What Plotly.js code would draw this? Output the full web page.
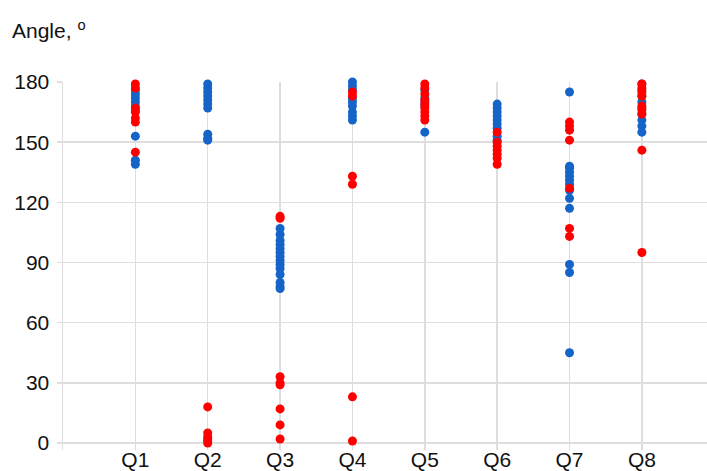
<!DOCTYPE html>
<html>
<head>
<meta charset="utf-8">
<script src="https://cdn.plot.ly/plotly-3.0.1.min.js"></script>
<style>html,body{margin:0;padding:0;background:#fff;}#chart{width:707px;height:471px;}</style>
</head>
<body>
<div id="chart"></div>
<script>
const categories = ['Q1', 'Q2', 'Q3', 'Q4', 'Q5', 'Q6', 'Q7', 'Q8'];

const blueQ1 = [176, 174, 172, 170, 168, 166, 153, 141, 139];
const blueQ2 = [179, 177, 175, 173, 171, 169, 167, 154, 152, 151];
const blueQ3 = [107, 104, 101, 99, 97, 95, 93, 91, 89, 87, 84, 80, 78, 77];
const blueQ4 = [180, 178, 176, 172, 170, 168, 165, 163, 161];
const blueQ5 = [176, 172, 170, 168, 155];
const blueQ6 = [169, 167, 165, 163, 161, 159, 157, 153, 151];
const blueQ7 = [175, 138, 137, 135, 133, 131, 129, 126, 122, 117, 89, 85, 45];
const blueQ8 = [179, 176, 173, 170, 167, 164, 161, 158, 155];

const redQ1 = [179, 177, 167, 165, 162, 160, 145];
const redQ2 = [18, 5, 3, 2, 1, 0];
const redQ3 = [113, 112, 33, 30, 29, 17, 9, 2];
const redQ4 = [175, 173, 133, 129, 23, 1];
const redQ5 = [179, 177, 174, 171, 169, 167, 165, 163, 161];
const redQ6 = [155, 150, 148, 146, 144, 142, 139];
const redQ7 = [160, 158, 156, 151, 127, 107, 103];
const redQ8 = [179, 177, 175, 173, 168, 166, 164, 146, 95];

const blueSets = [blueQ1, blueQ2, blueQ3, blueQ4, blueQ5, blueQ6, blueQ7, blueQ8];
const redSets = [redQ1, redQ2, redQ3, redQ4, redQ5, redQ6, redQ7, redQ8];
const yTicks = [0, 30, 60, 90, 120, 150, 180];

function flatten(sets) {
  const xs = [], ys = [];
  sets.forEach((vals, i) => vals.forEach(v => { xs.push(i + 1); ys.push(v); }));
  return {xs, ys};
}
const b = flatten(blueSets), r = flatten(redSets);

const grid = '#dedede';
const fam = 'Liberation Sans, Arial, sans-serif';
const traces = [
  {type: 'scatter', mode: 'markers', x: b.xs, y: b.ys, cliponaxis: false,
   marker: {color: '#1565c8', size: 9}, hoverinfo: 'y'},
  {type: 'scatter', mode: 'markers', x: r.xs, y: r.ys, cliponaxis: false,
   marker: {color: '#ff0000', size: 9}, hoverinfo: 'y'}
];

const layout = {
  width: 707, height: 471,
  margin: {l: 63, r: 0, t: 82, b: 21},
  paper_bgcolor: '#fff', plot_bgcolor: '#fff',
  showlegend: false,
  font: {family: fam, size: 21, color: '#111'},
  title: {text: 'Angle, <sup>o</sup>', x: 12 / 707, xanchor: 'left', xref: 'container',
          y: 1 - 31 / 471, yanchor: 'middle', yref: 'container',
          font: {family: fam, size: 21, color: '#111'}},
  xaxis: {range: [0, 8.9], tickvals: [1, 2, 3, 4, 5, 6, 7, 8], ticktext: categories,
          showgrid: true, gridcolor: grid, gridwidth: 1.5, zeroline: false,
          showline: false, ticks: '', fixedrange: true, ticklabelstandoff: -5,
          tickfont: {family: fam, size: 21, color: '#111'}},
  yaxis: {range: [-3.5, 180], tickvals: yTicks, showgrid: true, gridcolor: grid, gridwidth: 1.5,
          zeroline: false, showline: true, linecolor: grid, linewidth: 1.5,
          ticks: 'outside', ticklen: 5, tickcolor: grid, tickwidth: 1.5,
          ticklabelstandoff: 3,
          tickfont: {family: fam, size: 21, color: '#111'}, fixedrange: true}
};

Plotly.newPlot('chart', traces, layout, {displayModeBar: false, staticPlot: true});
</script>
</body>
</html>
